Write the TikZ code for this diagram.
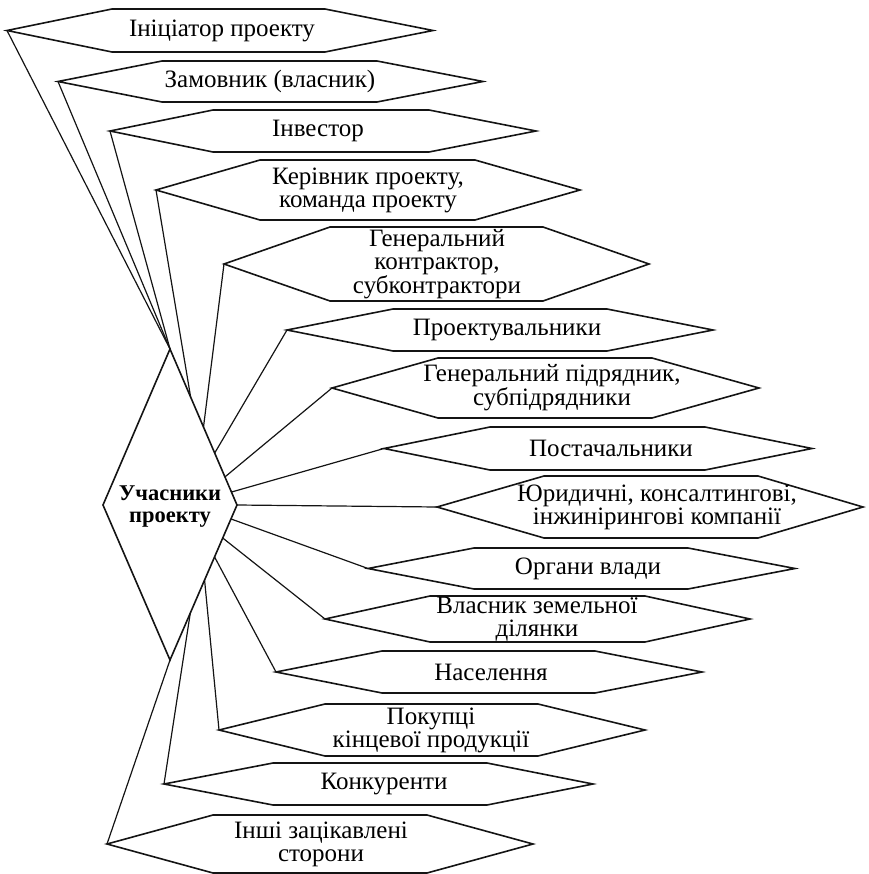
\documentclass[tikz,border=0pt]{standalone}
\usepackage{fontspec}
\setmainfont{Liberation Serif}
\usetikzlibrary{calc}

\tikzset{
  hexline/.style={draw=black!92, line width=1.6pt},
  link/.style={draw=black!92, line width=1.2pt},
  hexlabel/.style={align=center, inner sep=0pt, font=\fontsize{25}{23}\selectfont},
}

% \hexbox{name}{left x}{top-left x}{top-right x}{right x}{top y}{bottom y}{text x}{text}
\newcommand{\hexbox}[9]{%
  \draw[hexline] (#2,{(#6+#7)/2}) -- (#3,#6) -- (#4,#6) -- (#5,{(#6+#7)/2})
                 -- (#4,#7) -- (#3,#7) -- cycle;
  \coordinate (#1) at (#2,{(#6+#7)/2});
  \node[hexlabel] (#1-text) at (#8,{(#6+#7)/2}) {#9};
}

\begin{document}
\begin{tikzpicture}[x=1pt, y=-1pt]
\useasboundingbox (0,0) rectangle (868,874);

% central diamond
\coordinate (dT) at (170,349);
\coordinate (dR) at (237,505);
\coordinate (dB) at (170,660);
\coordinate (dL) at (103,505);
\draw[hexline] (dT) -- (dR) -- (dB) -- (dL) -- cycle;
\node[hexlabel, font=\fontsize{22.5}{22}\selectfont\bfseries] (centre) at (170,507) {Учасники\\проекту};

% participants
\hexbox{h1}{7}{112}{325}{433}{9}{52}{222}{Ініціатор проекту}
\hexbox{h2}{58}{162}{377}{483}{61}{102}{270}{Замовник (власник)}
\hexbox{h3}{110}{213}{429}{536}{110}{152}{318}{Інвестор}
\hexbox{h4}{156}{260}{475}{580}{160}{220}{368}{Керівник проекту,\\команда проекту}
\hexbox{h5}{224}{330}{543}{649}{227}{301}{437}{Генеральний\\контрактор,\\субконтрактори}
\hexbox{h6}{287}{393}{607}{713}{309}{351}{507}{Проектувальники}
\hexbox{h7}{332}{438}{652}{759}{358}{418}{552}{Генеральний підрядник,\\субпідрядники}
\hexbox{h8}{384}{490}{705}{812}{427}{470}{611}{Постачальники}
\hexbox{h9}{437}{544}{758}{863}{476}{538}{657}{Юридичні, консалтингові,\\інжинірингові компанії}
\hexbox{h10}{368}{474}{688}{795}{548}{589}{588}{Органи влади}
\hexbox{h11}{325}{430}{645}{750}{596}{642}{537}{Власник земельної\\ділянки}
\hexbox{h12}{276}{382}{595}{702}{651}{693}{491}{Населення}
\hexbox{h13}{219}{325}{538}{645}{704}{756}{431}{Покупці\\кінцевої продукції}
\hexbox{h14}{164}{273}{487}{593}{763}{805}{384}{Конкуренти}
\hexbox{h15}{107}{213}{427}{533}{815}{873}{321}{Інші зацікавлені\\сторони}

% connectors from the diamond to each participant
\draw[link] (h1) -- (dT);
\draw[link] (h2) -- (dT);
\draw[link] (h3) -- (dT);
\draw[link] (h4) -- ($(dT)!0.308!(dR)$);
\draw[link] (h5) -- ($(dT)!0.5!(dR)$);
\draw[link] (h6) -- ($(dT)!0.667!(dR)$);
\draw[link] (h7) -- ($(dT)!0.82!(dR)$);
\draw[link] (h8) -- ($(dT)!0.917!(dR)$);
\draw[link] (h9) -- (dR);
\draw[link] (h10) -- ($(dR)!0.09!(dB)$);
\draw[link] (h11) -- ($(dR)!0.213!(dB)$);
\draw[link] (h12) -- ($(dR)!0.335!(dB)$);
\draw[link] (h13) -- ($(dR)!0.484!(dB)$);
\draw[link] (h14) -- ($(dR)!0.697!(dB)$);
\draw[link] (h15) -- (dB);
\end{tikzpicture}
\end{document}
